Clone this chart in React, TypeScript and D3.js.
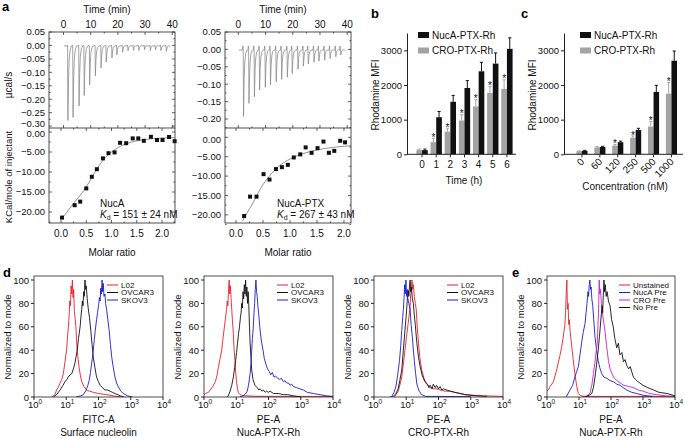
import { useEffect, useRef } from 'react';
import * as d3 from 'd3';

const FONT = "'Liberation Sans', Arial, Helvetica, sans-serif";

// ---------- a: ITC (NucA) ----------
const nucaInjTime = [1.5, 3.4, 5.6, 7.5, 9.5, 11.6, 13.7, 15.6, 17.7, 19.5, 21.6, 23.6, 25.6, 27.6, 29.7, 31.8, 33.7, 35.7, 37.7];
const nucaInjPeak = [-0.279, -0.268, -0.225, -0.186, -0.146, -0.113, -0.084, -0.062, -0.047, -0.035, -0.025, -0.02, -0.019, -0.019, -0.016, -0.019, -0.016, -0.019, -0.022];
const nucaRatio = [0.02, 0.27, 0.38, 0.5, 0.61, 0.71, 0.83, 0.94, 1.06, 1.17, 1.29, 1.42, 1.53, 1.64, 1.78, 1.9, 2.01, 2.14, 2.25];
const nucaHeat = [-21.4, -18.3, -17.4, -14.1, -11.2, -9.3, -6.6, -5.3, -5.1, -2.7, -2.8, -1.6, -1.6, -2.2, -1.2, -2.0, -2.0, -1.25, -2.3];
const nucaFit = [[0.0, -21.8], [0.1, -20.3], [0.2, -18.7], [0.3, -17.0], [0.4, -15.5], [0.5, -13.7], [0.6, -11.6], [0.7, -9.4], [0.8, -7.6], [0.9, -6.1], [1.0, -5.0], [1.1, -4.1], [1.2, -3.4], [1.4, -2.5], [1.6, -2.0], [1.8, -1.7], [2.0, -1.5], [2.25, -1.4]];

// ---------- a: ITC (NucA-PTX) ----------
const ptxInjTime = [1.8, 3.8, 5.8, 7.7, 9.8, 11.7, 13.8, 15.8, 17.9, 19.7, 21.8, 23.8, 25.6, 27.7, 29.5, 31.6, 33.6, 35.7, 37.5];
const ptxInjPeak = [-0.193, -0.155, -0.136, -0.117, -0.109, -0.102, -0.093, -0.086, -0.08, -0.069, -0.057, -0.048, -0.042, -0.037, -0.034, -0.031, -0.026, -0.021, -0.016];
const ptxRatio = [0.15, 0.26, 0.38, 0.51, 0.62, 0.74, 0.85, 0.96, 1.07, 1.19, 1.29, 1.4, 1.51, 1.62, 1.72, 1.82, 1.93, 2.02];
const ptxHeat = [-20.3, -15.3, -15.3, -9.5, -10.9, -8.2, -7.7, -7.1, -5.2, -4.4, -2.6, -4.0, -2.8, -1.1, -4.0, -3.5, -0.9, -1.3];
const ptxFit = [[0.12, -21.6], [0.2, -19.6], [0.3, -17.3], [0.4, -14.6], [0.5, -12.2], [0.6, -10.3], [0.7, -8.7], [0.8, -7.4], [0.9, -6.4], [1.0, -5.6], [1.2, -4.4], [1.4, -3.6], [1.6, -3.0], [1.8, -2.6], [2.0, -2.3], [2.13, -2.2]];

// ---------- b: time course ----------
const hours = ['0', '1', '2', '3', '4', '5', '6'];
const nucaHourMFI = [120, 1070, 1515, 1913, 2395, 2617, 3043];
const nucaHourErr = [30, 165, 185, 212, 260, 308, 317];
const croHourMFI = [130, 350, 655, 975, 1380, 1770, 1884];
const croHourErr = [20, 115, 100, 165, 195, 190, 266];
const hourStar = [false, true, true, true, true, true, true];

// ---------- c: concentration ----------
const concs = ['0', '60', '120', '250', '500', '1000'];
const nucaConcMFI = [100, 210, 350, 700, 1800, 2700];
const nucaConcErr = [15, 20, 30, 50, 190, 280];
const croConcMFI = [90, 200, 250, 480, 800, 1750];
const croConcErr = [10, 20, 30, 50, 150, 320];
const concStar = [false, false, true, true, true, true];

// ---------- d / e: flow histograms [log10 intensity, % of mode] ----------
const d1L02 = [[0.55, 0], [0.65, 2], [0.7, 6], [0.75, 8], [0.81, 12], [0.86, 15], [0.91, 20], [0.96, 30], [1.01, 40], [1.04, 52], [1.06, 57], [1.09, 70], [1.11, 82], [1.13, 78], [1.15, 95], [1.17, 88], [1.19, 100], [1.21, 85], [1.23, 92], [1.25, 74], [1.28, 66], [1.3, 60], [1.32, 48], [1.34, 40], [1.37, 32], [1.4, 25], [1.44, 18], [1.48, 13], [1.55, 9], [1.63, 6], [1.72, 5], [1.84, 4], [2.0, 3], [2.25, 2], [2.46, 1], [2.7, 0]];
const d1OVCAR3 = [[0.6, 0], [0.7, 2], [0.81, 6], [0.9, 10], [0.96, 13], [1.02, 15], [1.06, 17], [1.12, 19], [1.17, 20], [1.22, 24], [1.27, 29], [1.3, 34], [1.34, 40], [1.38, 50], [1.43, 60], [1.46, 70], [1.48, 75], [1.5, 82], [1.52, 78], [1.54, 90], [1.56, 86], [1.58, 100], [1.6, 92], [1.62, 95], [1.65, 84], [1.68, 76], [1.72, 68], [1.76, 57], [1.8, 45], [1.84, 34], [1.89, 25], [1.94, 17], [2.0, 13], [2.05, 10], [2.12, 8], [2.2, 6], [2.28, 6], [2.36, 5], [2.43, 4], [2.51, 3], [2.6, 2], [2.67, 1], [2.8, 0]];
const d1SKOV3 = [[1.3, 0], [1.45, 1], [1.53, 2], [1.6, 5], [1.63, 7], [1.67, 10], [1.71, 14], [1.75, 21], [1.79, 29], [1.83, 38], [1.87, 49], [1.9, 57], [1.94, 66], [1.97, 72], [2.0, 78], [2.03, 85], [2.05, 82], [2.07, 93], [2.09, 88], [2.11, 100], [2.13, 90], [2.15, 97], [2.17, 86], [2.2, 88], [2.22, 80], [2.25, 75], [2.29, 66], [2.33, 57], [2.37, 45], [2.41, 34], [2.46, 25], [2.51, 17], [2.56, 12], [2.61, 9], [2.69, 5], [2.77, 3], [2.9, 1], [3.05, 0]];

const d2L02 = [[0.0, 2], [0.05, 3], [0.14, 4], [0.19, 6], [0.27, 9], [0.35, 13], [0.4, 18], [0.45, 26], [0.5, 33], [0.55, 40], [0.58, 48], [0.62, 57], [0.66, 66], [0.7, 75], [0.72, 82], [0.74, 78], [0.76, 92], [0.78, 100], [0.8, 88], [0.82, 95], [0.84, 84], [0.86, 75], [0.88, 66], [0.91, 54], [0.93, 42], [0.96, 31], [0.98, 22], [1.01, 13], [1.04, 7], [1.06, 4], [1.12, 2], [1.17, 1.5], [1.3, 1], [1.6, 0.6], [2.5, 0.5], [4.0, 0.5]];
const d2OVCAR3 = [[0.7, 0], [0.75, 1], [0.81, 5], [0.86, 10], [0.91, 17], [0.95, 25], [0.98, 31], [1.01, 38], [1.04, 46], [1.07, 54], [1.1, 60], [1.13, 68], [1.15, 72], [1.17, 80], [1.19, 76], [1.21, 90], [1.23, 84], [1.25, 96], [1.27, 88], [1.29, 100], [1.31, 86], [1.33, 94], [1.35, 80], [1.37, 90], [1.39, 78], [1.41, 60], [1.43, 46], [1.46, 32], [1.48, 23], [1.52, 15], [1.58, 10], [1.65, 8], [1.7, 6], [1.74, 7], [1.8, 5], [1.84, 6], [1.9, 4], [1.94, 5], [2.0, 4], [2.05, 5], [2.15, 3], [2.3, 3], [2.46, 2], [2.6, 2], [2.77, 1], [3.0, 0]];
const d2SKOV3 = [[1.1, 0], [1.22, 1], [1.3, 3], [1.34, 5], [1.38, 10], [1.43, 20], [1.46, 30], [1.48, 40], [1.5, 50], [1.53, 60], [1.55, 72], [1.57, 80], [1.59, 92], [1.61, 100], [1.63, 90], [1.65, 86], [1.67, 78], [1.7, 70], [1.73, 60], [1.76, 52], [1.79, 46], [1.83, 40], [1.87, 33], [1.92, 28], [1.97, 24], [2.02, 22], [2.07, 19], [2.12, 21], [2.17, 17], [2.22, 18], [2.28, 16], [2.35, 15], [2.4, 16], [2.46, 13], [2.51, 14], [2.56, 12], [2.62, 12], [2.67, 10], [2.72, 11], [2.77, 9], [2.87, 8], [2.97, 7], [3.08, 6], [3.2, 4], [3.39, 3], [3.6, 2], [3.8, 1], [4.0, 0.5]];

const d3L02 = [[0.6, 0], [0.65, 0.5], [0.75, 5], [0.8, 10], [0.86, 17], [0.91, 28], [0.96, 40], [1.01, 52], [1.06, 63], [1.09, 70], [1.12, 78], [1.14, 88], [1.16, 95], [1.18, 100], [1.2, 92], [1.22, 96], [1.25, 86], [1.28, 80], [1.31, 75], [1.34, 60], [1.38, 46], [1.42, 34], [1.48, 23], [1.55, 16], [1.63, 11], [1.74, 8], [1.84, 7], [1.95, 7], [2.05, 6], [2.2, 5], [2.36, 5], [2.5, 4], [2.67, 3], [2.85, 2], [3.08, 1.5], [3.4, 1], [4.0, 0.5]];
const d3OVCAR3 = [[0.55, 0], [0.6, 0.5], [0.68, 3], [0.75, 7], [0.8, 14], [0.86, 23], [0.91, 40], [0.96, 57], [1.0, 70], [1.03, 82], [1.06, 91], [1.08, 86], [1.1, 95], [1.12, 100], [1.14, 90], [1.16, 94], [1.19, 84], [1.22, 80], [1.25, 70], [1.28, 62], [1.31, 52], [1.33, 46], [1.38, 34], [1.43, 26], [1.5, 18], [1.58, 13], [1.66, 11], [1.7, 8], [1.74, 10], [1.8, 7], [1.84, 11], [1.9, 8], [1.94, 10], [2.0, 7], [2.05, 9], [2.1, 6], [2.15, 7], [2.25, 6], [2.36, 5], [2.5, 4], [2.67, 3], [2.82, 2], [2.98, 1.5], [3.2, 1], [3.5, 0.5]];
const d3SKOV3 = [[0.5, 0], [0.55, 0.5], [0.62, 4], [0.68, 9], [0.73, 18], [0.79, 31], [0.83, 44], [0.86, 57], [0.89, 68], [0.91, 75], [0.93, 84], [0.95, 96], [0.97, 88], [0.99, 100], [1.01, 86], [1.03, 92], [1.05, 84], [1.08, 80], [1.12, 75], [1.15, 62], [1.19, 51], [1.22, 40], [1.25, 31], [1.29, 20], [1.33, 11], [1.4, 5], [1.48, 2], [1.6, 0.5], [2.0, 0.5], [3.0, 0.3]];

const eUnstained = [[0.0, 5], [0.04, 6], [0.1, 9], [0.15, 11], [0.2, 13], [0.25, 18], [0.3, 23], [0.35, 29], [0.4, 35], [0.46, 43], [0.5, 50], [0.53, 56], [0.56, 62], [0.58, 72], [0.6, 88], [0.62, 100], [0.64, 75], [0.66, 80], [0.68, 62], [0.7, 66], [0.72, 57], [0.77, 44], [0.82, 32], [0.87, 20], [0.93, 9], [0.98, 3], [1.05, 1], [1.2, 0.5], [4.0, 0.5]];
const eNucaPre = [[0.6, 0], [0.72, 6], [0.8, 10], [0.87, 17], [0.93, 22], [0.98, 26], [1.03, 36], [1.08, 46], [1.13, 55], [1.19, 63], [1.22, 72], [1.25, 80], [1.28, 90], [1.3, 86], [1.32, 96], [1.34, 100], [1.36, 92], [1.38, 94], [1.4, 84], [1.43, 78], [1.46, 66], [1.5, 51], [1.55, 40], [1.6, 31], [1.65, 25], [1.71, 20], [1.78, 17], [1.87, 16], [1.97, 14], [2.08, 13], [2.18, 11], [2.28, 10], [2.38, 8], [2.49, 6], [2.65, 4], [2.8, 3], [3.0, 1.5], [3.3, 0.5]];
const eCroPre = [[1.1, 0], [1.25, 1], [1.34, 3], [1.4, 10], [1.45, 20], [1.5, 30], [1.54, 40], [1.57, 46], [1.59, 60], [1.61, 72], [1.62, 85], [1.63, 100], [1.65, 88], [1.67, 92], [1.7, 80], [1.73, 72], [1.77, 64], [1.81, 57], [1.86, 44], [1.92, 31], [1.97, 24], [2.03, 20], [2.08, 17], [2.18, 14], [2.29, 12], [2.4, 10], [2.55, 9], [2.7, 8], [2.85, 6], [3.0, 5], [3.2, 3], [3.43, 2], [3.7, 1], [4.0, 0.5]];
const eNoPre = [[1.2, 0], [1.35, 2], [1.4, 3], [1.45, 8], [1.5, 17], [1.55, 28], [1.6, 40], [1.64, 52], [1.68, 65], [1.72, 78], [1.74, 72], [1.76, 88], [1.78, 100], [1.8, 90], [1.82, 96], [1.85, 86], [1.88, 90], [1.92, 82], [1.97, 78], [2.02, 66], [2.07, 60], [2.12, 50], [2.18, 42], [2.23, 46], [2.28, 36], [2.34, 38], [2.39, 30], [2.44, 32], [2.49, 27], [2.55, 24], [2.6, 26], [2.7, 17], [2.8, 14], [2.9, 12], [3.0, 10], [3.15, 8], [3.33, 6], [3.5, 4], [3.75, 3], [4.0, 1]];

const RED = '#e8202a';
const BLUE = '#1c1ccf';
const MAG = '#c81ec8';
const BLK = '#111111';
const GREY = '#a3a3a3';

function txt(g: any, x: number, y: number, s: string, size = 10, anchor = 'start') {
  return g.append('text').attr('x', x).attr('y', y).attr('font-size', size)
    .attr('text-anchor', anchor).attr('fill', '#111').text(s);
}

function drawITC(svg: any, c: any) {
  const g = svg.append('g');
  const yTop = 32, yMid = 128, yBot = 223;
  const xt = d3.scaleLinear().domain(c.timeDomain).range([c.x0, c.x1]);
  const yt = d3.scaleLinear().domain(c.topDomain).range([yMid, yTop]);
  const xr = d3.scaleLinear().domain(c.ratioDomain).range([c.x0, c.x1]);
  const yb = d3.scaleLinear().domain(c.botDomain).range([yBot, yMid]);

  // raw heat trace built from the injection list
  const base = -0.002;
  const pts: [number, number][] = [[0.2, base]];
  c.times.forEach((t: number, i: number) => {
    const d = c.peaks[i];
    pts.push([t - 0.25, base], [t - 0.1, base + c.blip], [t, base], [t + 0.12, d],
      [t + 0.35, d * 0.45], [t + 0.6, d * 0.18], [t + 0.95, d * 0.06], [t + 1.4, base]);
  });
  pts.push([39.3, base]);
  g.append('path').attr('d', d3.line().x((d: any) => xt(d[0])).y((d: any) => yt(d[1]))(pts))
    .attr('fill', 'none').attr('stroke', '#8c8c8c').attr('stroke-width', 0.8);

  // fit and points
  g.append('path').attr('d', d3.line().curve(d3.curveMonotoneX).x((d: any) => xr(d[0])).y((d: any) => yb(d[1]))(c.fit))
    .attr('fill', 'none').attr('stroke', '#777').attr('stroke-width', 0.8);
  g.selectAll('rect.pt').data(c.ratio).enter().append('rect')
    .attr('x', (d: number) => xr(d) - 2).attr('y', (d: number, i: number) => yb(c.heat[i]) - 2)
    .attr('width', 4).attr('height', 4).attr('fill', BLK);

  // frame
  g.append('rect').attr('x', c.x0).attr('y', yTop).attr('width', c.x1 - c.x0).attr('height', yBot - yTop)
    .attr('fill', 'none').attr('stroke', '#222').attr('stroke-width', 0.8);
  g.append('line').attr('x1', c.x0).attr('x2', c.x1).attr('y1', yMid).attr('y2', yMid)
    .attr('stroke', '#222').attr('stroke-width', 0.8);

  const tick = (x1: number, y1: number, x2: number, y2: number) =>
    g.append('line').attr('x1', x1).attr('y1', y1).attr('x2', x2).attr('y2', y2).attr('stroke', '#222').attr('stroke-width', 0.7);

  // time ticks (top axis)
  [0, 5, 10, 15, 20, 25, 30, 35, 40].forEach((t) => {
    const L = t % 10 === 0 ? 3 : 1.6;
    tick(xt(t), yTop, xt(t), yTop + L);
    tick(xt(t), yMid, xt(t), yMid - L);
    if (t % 10 === 0) txt(g, xt(t), 28, String(t), 10, 'middle');
  });
  txt(g, (c.x0 + c.x1) / 2 - 5, 13, 'Time (min)', 10, 'middle');

  // top y ticks
  const f2 = d3.format('.2f');
  c.topTicks.forEach((v: number) => {
    tick(c.x0, yt(v), c.x0 + 3, yt(v));
    tick(c.x1, yt(v), c.x1 - 3, yt(v));
    txt(g, c.x0 - 4, yt(v) + (v < -0.29 ? 1.2 : 3.4), f2(v), 9.5, 'end');
    const m = v - 0.025;
    if (m > c.topDomain[0]) { tick(c.x0, yt(m), c.x0 + 1.6, yt(m)); tick(c.x1, yt(m), c.x1 - 1.6, yt(m)); }
  });
  // bottom y ticks
  [0, -5, -10, -15, -20].forEach((v) => {
    tick(c.x0, yb(v), c.x0 + 3, yb(v));
    tick(c.x1, yb(v), c.x1 - 3, yb(v));
    txt(g, c.x0 - 4, yb(v) + (v === 0 ? 5.2 : 3.4), f2(v), 9.5, 'end');
    tick(c.x0, yb(v - 2.5), c.x0 + 1.6, yb(v - 2.5));
    tick(c.x1, yb(v - 2.5), c.x1 - 1.6, yb(v - 2.5));
  });
  // ratio ticks
  [0, 0.25, 0.5, 0.75, 1, 1.25, 1.5, 1.75, 2].forEach((v) => {
    const major = v % 0.5 === 0;
    const L = major ? 3 : 1.6;
    tick(xr(v), yBot, xr(v), yBot - L);
    tick(xr(v), yMid, xr(v), yMid + L);
    if (major) txt(g, xr(v), 237, d3.format('.1f')(v), 10, 'middle');
  });
  txt(g, (c.x0 + c.x1) / 2, 256, 'Molar ratio', 10, 'middle');

  // annotation
  txt(g, c.annX, 207, c.name, 10);
  const k = g.append('text').attr('x', c.annX).attr('y', 218).attr('font-size', 10).attr('fill', '#111');
  k.append('tspan').attr('font-style', 'italic').text('K');
  k.append('tspan').attr('font-size', 7).attr('dy', 2).text('d');
  k.append('tspan').attr('dy', -2).text(' = ' + c.kd);
}

function drawBars(svg: any, c: any) {
  const g = svg.append('g');
  const y = d3.scaleLinear().domain([0, 3500]).range([154.3, 33]);
  const x = d3.scaleBand().domain(c.cats).range(c.band).paddingInner(c.pad).paddingOuter(c.pad / 2);
  const xs = d3.scaleBand().domain(['cro', 'nuca']).range([0, x.bandwidth()]);

  const series = [
    { key: 'cro', vals: c.cro, err: c.croErr, color: GREY },
    { key: 'nuca', vals: c.nuca, err: c.nucaErr, color: BLK },
  ];
  series.forEach((s) => {
    c.cats.forEach((cat: string, i: number) => {
      const bx = (x(cat) as number) + (xs(s.key) as number);
      const bw = xs.bandwidth();
      g.append('rect').attr('x', bx).attr('y', y(s.vals[i])).attr('width', bw)
        .attr('height', y(0) - y(s.vals[i])).attr('fill', s.color);
      const cx = bx + bw / 2;
      const top = y(s.vals[i] + s.err[i]);
      g.append('line').attr('x1', cx).attr('x2', cx).attr('y1', y(s.vals[i])).attr('y2', top)
        .attr('stroke', s.color).attr('stroke-width', 1);
      g.append('line').attr('x1', cx - 1.6).attr('x2', cx + 1.6).attr('y1', top).attr('y2', top)
        .attr('stroke', s.color).attr('stroke-width', 1);
      if (s.key === 'cro' && c.star[i]) txt(g, cx, top + 2.6, '*', 10, 'middle');
    });
  });

  // axes
  const ya = g.append('g').attr('transform', `translate(${c.axisX},0)`)
    .call(d3.axisLeft(y).tickValues([0, 1000, 2000, 3000]).tickFormat(d3.format('d')).tickSize(3).tickSizeOuter(0));
  ya.selectAll('text').attr('font-size', 9.5).attr('font-family', FONT).attr('fill', '#111').attr('x', -5);
  ya.selectAll('line,path').attr('stroke', '#222');
  g.append('line').attr('x1', c.axisX).attr('x2', c.axisEnd).attr('y1', y(0)).attr('y2', y(0))
    .attr('stroke', '#222');
  c.cats.forEach((cat: string) => {
    const cx = (x(cat) as number) + x.bandwidth() / 2;
    g.append('line').attr('x1', cx).attr('x2', cx).attr('y1', y(0)).attr('y2', y(0) + 3).attr('stroke', '#222');
    if (c.rotate) {
      g.append('text').attr('transform', `translate(${cx + 3},${y(0) + 8}) rotate(-45)`)
        .attr('text-anchor', 'end').attr('font-size', 10).attr('fill', '#111').text(cat);
    } else {
      txt(g, cx, y(0) + 14, cat, 10, 'middle');
    }
  });
  g.append('text').attr('transform', `translate(${c.axisX - 28},95) rotate(-90)`)
    .attr('text-anchor', 'middle').attr('font-size', 10).attr('fill', '#111').text('Rhodamine MFI');
  txt(g, c.titleX, c.titleY, c.title, 10, 'middle');

  // legend
  [['NucA-PTX-Rh', BLK], ['CRO-PTX-Rh', GREY]].forEach((d, i) => {
    g.append('rect').attr('x', c.legX).attr('y', 32 + i * 15.5).attr('width', 11).attr('height', 6).attr('fill', d[1]);
    txt(g, c.legX + 14, 38.5 + i * 15.5, d[0], 10);
  });
}

function drawHist(svg: any, c: any) {
  const g = svg.append('g');
  const yB = 397, yT = 276;
  const x = d3.scaleLinear().domain([0, 4]).range([c.x0, c.x1]);
  const y = d3.scaleLinear().domain([0, 100]).range([yB, 280]);
  const id = 'clip' + c.x0;
  g.append('clipPath').attr('id', id).append('rect').attr('x', c.x0).attr('y', yT).attr('width', c.x1 - c.x0).attr('height', yB - yT);
  const line = d3.line().x((d: any) => x(d[0])).y((d: any) => y(d[1]));
  c.curves.forEach((cv: any) => {
    g.append('path').attr('d', line(cv.data)).attr('clip-path', `url(#${id})`)
      .attr('fill', 'none').attr('stroke', cv.color).attr('stroke-width', 0.9).attr('stroke-linejoin', 'round');
  });
  g.append('rect').attr('x', c.x0).attr('y', yT).attr('width', c.x1 - c.x0).attr('height', yB - yT)
    .attr('fill', 'none').attr('stroke', '#222').attr('stroke-width', 0.8);

  [0, 20, 40, 60, 80, 100].forEach((v) => {
    g.append('line').attr('x1', c.x0 - 3).attr('x2', c.x0).attr('y1', y(v)).attr('y2', y(v)).attr('stroke', '#222');
    txt(g, c.x0 - 5, y(v) + 3.5, String(v), 9.5, 'end');
  });
  [0, 1, 2, 3, 4].forEach((k) => {
    g.append('line').attr('x1', x(k)).attr('x2', x(k)).attr('y1', yB).attr('y2', yB + 3).attr('stroke', '#222');
    const t = g.append('text').attr('x', x(k) + 1).attr('y', 407.5).attr('font-size', 9.5)
      .attr('text-anchor', 'middle').attr('fill', '#111');
    t.append('tspan').text('10');
    t.append('tspan').attr('font-size', 6.5).attr('dy', -4).text(String(k));
  });
  g.append('text').attr('transform', `translate(${c.x0 - 23},337) rotate(-90)`)
    .attr('text-anchor', 'middle').attr('font-size', 9.5).attr('fill', '#111').text('Normalized to mode');
  txt(g, (c.x0 + c.x1) / 2, 423, c.axis, 10, 'middle');
  txt(g, (c.x0 + c.x1) / 2, 435.5, c.title, 10, 'middle');

  c.curves.forEach((cv: any, i: number) => {
    const ly = 285 + i * 7.5;
    g.append('line').attr('x1', c.x1 - 56).attr('x2', c.x1 - 45).attr('y1', ly).attr('y2', ly)
      .attr('stroke', cv.color).attr('stroke-width', 1);
    txt(g, c.x1 - 42, ly + 2.8, cv.name, 8);
  });
}

export default function App() {
  const ref = useRef<SVGSVGElement>(null);

  useEffect(() => {
    document.body.style.margin = '0';
    const svg = d3.select(ref.current);
    svg.selectAll('*').remove();
    svg.attr('font-family', FONT);

    drawITC(svg, {
      x0: 49, x1: 175, timeDomain: [-5.33, 41.0], topDomain: [-0.307, 0.05], botDomain: [-22.75, 1.0],
      ratioDomain: [-0.238, 2.257], topTicks: [0.05, 0, -0.05, -0.1, -0.15, -0.2, -0.25, -0.3],
      times: nucaInjTime, peaks: nucaInjPeak, blip: 0.003, ratio: nucaRatio, heat: nucaHeat, fit: nucaFit,
      annX: 100, name: 'NucA', kd: '151 ± 24 nM',
    });
    drawITC(svg, {
      x0: 225, x1: 351, timeDomain: [-4.89, 41.4], topDomain: [-0.226, 0.05], botDomain: [-22.1, 2.4],
      ratioDomain: [-0.204, 2.13], topTicks: [0.05, 0, -0.05, -0.1, -0.15, -0.2],
      times: ptxInjTime, peaks: ptxInjPeak, blip: 0.012, ratio: ptxRatio, heat: ptxHeat, fit: ptxFit,
      annX: 277, name: 'NucA-PTX', kd: '267 ± 43 nM',
    });
    svg.append('text').attr('transform', 'translate(12,85) rotate(-90)').attr('text-anchor', 'middle')
      .attr('font-size', 10).attr('fill', '#111').text('µcal/s');
    svg.append('text').attr('transform', 'translate(12,177) rotate(-90)').attr('text-anchor', 'middle')
      .attr('font-size', 9.5).attr('fill', '#111').text('KCal/mole of injectant');

    drawBars(svg, {
      cats: hours, nuca: nucaHourMFI, nucaErr: nucaHourErr, cro: croHourMFI, croErr: croHourErr, star: hourStar,
      band: [415, 514], pad: 0.2, axisX: 407, axisEnd: 516, rotate: false,
      title: 'Time (h)', titleX: 464, titleY: 184, legX: 418,
    });
    drawBars(svg, {
      cats: concs, nuca: nucaConcMFI, nucaErr: nucaConcErr, cro: croConcMFI, croErr: croConcErr, star: concStar,
      band: [573, 680.4], pad: 0.38, axisX: 564, axisEnd: 683, rotate: true,
      title: 'Concentration (nM)', titleX: 625, titleY: 190, legX: 580,
    });

    drawHist(svg, {
      x0: 34, x1: 163, axis: 'FITC-A', title: 'Surface nucleolin',
      curves: [{ name: 'L02', color: RED, data: d1L02 }, { name: 'OVCAR3', color: BLK, data: d1OVCAR3 }, { name: 'SKOV3', color: BLUE, data: d1SKOV3 }],
    });
    drawHist(svg, {
      x0: 204, x1: 333, axis: 'PE-A', title: 'NucA-PTX-Rh',
      curves: [{ name: 'L02', color: RED, data: d2L02 }, { name: 'OVCAR3', color: BLK, data: d2OVCAR3 }, { name: 'SKOV3', color: BLUE, data: d2SKOV3 }],
    });
    drawHist(svg, {
      x0: 374, x1: 503, axis: 'PE-A', title: 'CRO-PTX-Rh',
      curves: [{ name: 'L02', color: RED, data: d3L02 }, { name: 'OVCAR3', color: BLK, data: d3OVCAR3 }, { name: 'SKOV3', color: BLUE, data: d3SKOV3 }],
    });
    drawHist(svg, {
      x0: 547, x1: 675, axis: 'PE-A', title: 'NucA-PTX-Rh',
      curves: [{ name: 'Unstained', color: RED, data: eUnstained }, { name: 'NucA Pre', color: BLUE, data: eNucaPre },
        { name: 'CRO Pre', color: MAG, data: eCroPre }, { name: 'No Pre', color: BLK, data: eNoPre }],
    });

    // panel letters
    [['a', 2, 11], ['b', 371, 18], ['c', 521, 18], ['d', 3, 277], ['e', 512, 277]].forEach((d: any) => {
      svg.append('text').attr('x', d[1]).attr('y', d[2]).attr('font-size', 13).attr('font-weight', 'bold')
        .attr('fill', '#000').text(d[0]);
    });
  }, []);

  return <svg ref={ref} width={685} height={438} style={{ display: 'block', background: '#fff' }} />;
}
